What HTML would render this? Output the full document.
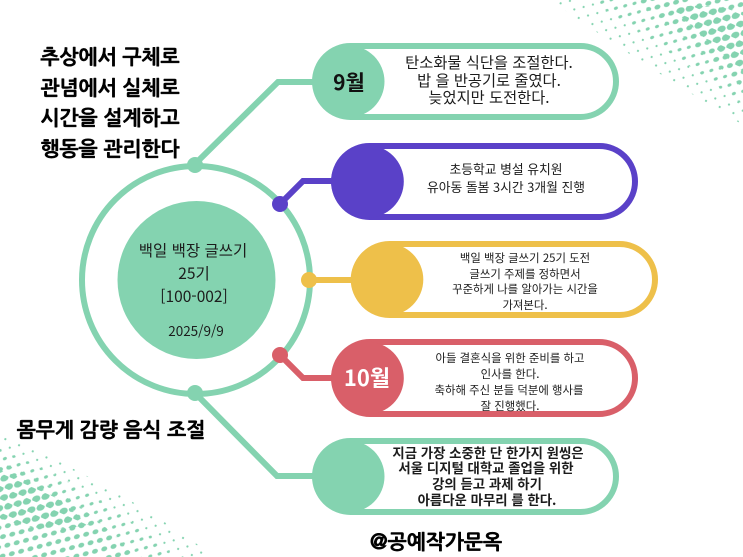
<!DOCTYPE html>
<html lang="ko"><head><meta charset="utf-8"><title>백일 백장 글쓰기</title>
<style>
html,body{margin:0;padding:0;background:#fff}
svg{display:block}
text{font-family:"Liberation Sans","Noto Sans CJK KR","NanumGothic",sans-serif;fill:#1c1c1c;text-anchor:middle}
.kr{font-family:"Noto Sans CJK KR","NanumGothic",sans-serif}
.hand{font-family:"NanumGothic","Noto Sans CJK KR",sans-serif;font-weight:700;fill:#000;stroke:#000;stroke-width:.5}
</style></head>
<body>
<svg width="743" height="557" viewBox="0 0 743 557" xmlns="http://www.w3.org/2000/svg">
<defs>
<pattern id="a1" width="15" height="12" patternUnits="userSpaceOnUse" patternTransform="rotate(24)"><circle cx="3.500" cy="3" r="1.100" fill="#84d3b0"/><circle cx="11" cy="9" r="1.100" fill="#84d3b0"/></pattern>
<pattern id="a2" width="15" height="12" patternUnits="userSpaceOnUse" patternTransform="rotate(24)"><ellipse cx="3.500" cy="3" rx="2.100" ry="1.500" transform="rotate(-50 3.500 3)" fill="#84d3b0"/><ellipse cx="11" cy="9" rx="2.100" ry="1.500" transform="rotate(-50 11 9)" fill="#84d3b0"/></pattern>
<pattern id="a3" width="15" height="12" patternUnits="userSpaceOnUse" patternTransform="rotate(24)"><ellipse cx="3.500" cy="3" rx="3.100" ry="2.300" transform="rotate(-50 3.500 3)" fill="#84d3b0"/><ellipse cx="11" cy="9" rx="3.100" ry="2.300" transform="rotate(-50 11 9)" fill="#84d3b0"/></pattern>
<pattern id="a4" width="15" height="12" patternUnits="userSpaceOnUse" patternTransform="rotate(24)"><ellipse cx="3.500" cy="3" rx="4.300" ry="3.200" transform="rotate(-50 3.500 3)" fill="#84d3b0"/><ellipse cx="11" cy="9" rx="4.300" ry="3.200" transform="rotate(-50 11 9)" fill="#84d3b0"/></pattern>
<clipPath id="t1"><path d="M550,0 Q650,70 743,125 L743,0Z"/></clipPath>
<clipPath id="t2"><path d="M590,0 Q670,50 743,105 L743,0Z"/></clipPath>
<clipPath id="t3"><path d="M635,0 Q690,40 743,88 L743,0Z"/></clipPath>
<clipPath id="t4"><path d="M672,8 Q700,35 743,72 L743,12 Q705,2 672,8Z"/></clipPath>
<clipPath id="b1"><path d="M0,435 Q110,480 215,557 L0,557Z"/></clipPath>
<clipPath id="b2"><path d="M0,450 Q100,490 175,557 L0,557Z"/></clipPath>
<clipPath id="b3"><path d="M0,462 Q80,495 135,557 L0,557Z"/></clipPath>
<clipPath id="b4"><path d="M0,470 Q50,486 88,525 Q40,535 0,518Z"/></clipPath>
</defs>
<rect width="743" height="557" fill="#fff"/>
<rect width="743" height="557" fill="url(#a1)" clip-path="url(#t1)"/>
<rect width="743" height="557" fill="url(#a2)" clip-path="url(#t2)"/>
<rect width="743" height="557" fill="url(#a3)" clip-path="url(#t3)"/>
<rect width="743" height="557" fill="url(#a4)" clip-path="url(#t4)"/>
<rect width="743" height="557" fill="url(#a1)" clip-path="url(#b1)"/>
<rect width="743" height="557" fill="url(#a2)" clip-path="url(#b2)"/>
<rect width="743" height="557" fill="url(#a3)" clip-path="url(#b3)"/>
<rect width="743" height="557" fill="url(#a4)" clip-path="url(#b4)"/>

<!-- connectors -->
<g fill="none" stroke-width="6">
<polyline points="195,164 278,82 314,82" stroke="#84d3b0"/>
<polyline points="280,204 303,181 334,181" stroke="#5a41c8"/>
<polyline points="309,280 354,280" stroke="#eec04a"/>
<polyline points="280,355 303,378 334,378" stroke="#d95f69"/>
<polyline points="195,393 277,476 314,476" stroke="#84d3b0"/>
</g>

<!-- ring -->
<circle cx="196" cy="280" r="114" fill="none" stroke="#84d3b0" stroke-width="6"/>
<circle cx="196.500" cy="280" r="79" fill="#84d3b0"/>
<circle cx="195" cy="165" r="8" fill="#84d3b0"/>
<circle cx="195" cy="393" r="8" fill="#84d3b0"/>
<circle cx="280" cy="204" r="8" fill="#5a41c8"/>
<circle cx="309" cy="280" r="8" fill="#eec04a"/>
<circle cx="280" cy="355" r="8" fill="#d95f69"/>

<!-- pills -->
<rect x="315" y="46" width="301" height="71" rx="35.500" fill="#fff" stroke="#84d3b0" stroke-width="6"/>
<circle cx="348.500" cy="81.500" r="36" fill="#84d3b0"/>
<rect x="334" y="146" width="301" height="71" rx="35.500" fill="#fff" stroke="#5a41c8" stroke-width="6"/>
<circle cx="367.500" cy="181.500" r="36.300" fill="#5a41c8"/>
<rect x="354" y="244" width="301" height="71" rx="35.500" fill="#fff" stroke="#eec04a" stroke-width="6"/>
<circle cx="387" cy="279.500" r="36.300" fill="#eec04a"/>
<rect x="334" y="342" width="301" height="72" rx="36" fill="#fff" stroke="#d95f69" stroke-width="6"/>
<circle cx="367.500" cy="378" r="36.300" fill="#d95f69"/>
<rect x="315" y="441" width="301" height="71" rx="35.500" fill="#fff" stroke="#84d3b0" stroke-width="6"/>
<circle cx="348.500" cy="476.500" r="36" fill="#84d3b0"/>

<!-- centre text -->
<g font-size="15.500">
<text class="kr" x="193" y="256">백일 백장 글쓰기</text>
<text class="kr" x="194" y="279">25기</text>
<text class="kr" x="194" y="302">[100-002]</text>
<text class="kr" x="196" y="336" font-size="13.500">2025/9/9</text>
</g>

<!-- badges -->
<text class="kr" x="349" y="90" font-size="21" font-weight="700" style="fill:#111">9월</text>
<text class="kr" x="367" y="386" font-size="22" font-weight="700" style="fill:#fff">10월</text>

<!-- pill text -->
<g font-size="15.300">
<text class="kr" x="489" y="68">탄소화물 식단을 조절한다.</text>
<text class="kr" x="489" y="86">밥 을 반공기로 줄였다.</text>
<text class="kr" x="489" y="103">늦었지만 도전한다.</text>
</g>
<g font-size="12.800">
<text class="kr" x="506" y="174">초등학교 병설 유치원</text>
<text class="kr" x="506" y="192">유아동 돌봄 3시간 3개월 진행</text>
</g>
<g font-size="11.400">
<text class="kr" x="525" y="262">백일 백장 글쓰기 25기 도전</text>
<text class="kr" x="525" y="278">글쓰기 주제를 정하면서</text>
<text class="kr" x="525" y="293">꾸준하게 나를 알아가는 시간을</text>
<text class="kr" x="525" y="309">가져본다.</text>
<text class="kr" x="510" y="362">아들 결혼식을 위한 준비를 하고</text>
<text class="kr" x="510" y="378">인사를 한다.</text>
<text class="kr" x="509" y="394">축하해 주신 분들 덕분에 행사를</text>
<text class="kr" x="510" y="410">잘 진행했다.</text>
</g>
<g font-size="13.400" font-weight="700">
<text class="kr" x="488" y="458">지금 가장 소중한 단 한가지 원씽은</text>
<text class="kr" x="486" y="473">서울 디지털 대학교 졸업을 위한</text>
<text class="kr" x="487" y="489">강의 듣고 과제 하기</text>
<text class="kr" x="487" y="505">아름다운 마무리 를 한다.</text>
</g>

<!-- hand text -->
<g font-size="20.300">
<text class="hand" x="110" y="64">추상에서 구체로</text>
<text class="hand" x="110" y="95">관념에서 실체로</text>
<text class="hand" x="110" y="125">시간을 설계하고</text>
<text class="hand" x="110" y="156">행동을 관리한다</text>
<text class="hand" x="111" y="437">몸무게 감량 음식 조절</text>
<text class="hand" x="436" y="549">@공예작가문옥</text>
</g>
</svg>
</body></html>
